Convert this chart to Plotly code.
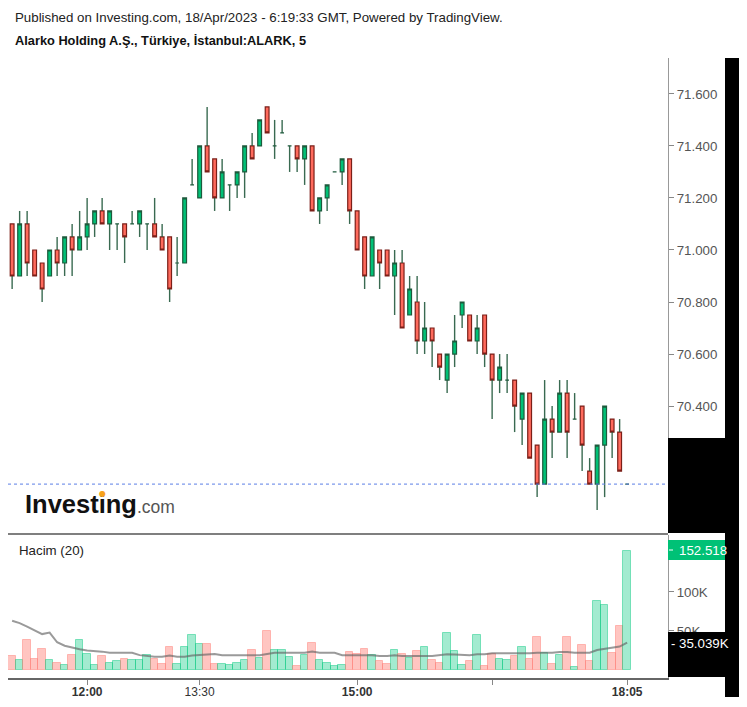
import plotly.graph_objects as go

# ---------------- data ----------------
opens = [71.10, 70.90, 71.10, 71.00, 70.95, 70.90, 71.00, 70.95, 71.05, 71.00,
         71.05, 71.10, 71.15, 71.10, 71.10, 71.10, 71.10, 71.10, 71.10, 71.10,
         71.05, 71.05, 70.95, 70.95, 71.25, 71.20, 71.40, 71.35, 71.20, 71.25,
         71.25, 71.30, 71.40, 71.40, 71.55, 71.40, 71.45, 71.40, 71.40, 71.35,
         71.40, 71.15, 71.20, 71.30, 71.30, 71.35, 71.15, 71.05, 70.90, 71.00,
         71.00, 70.90, 70.95, 70.75, 70.80, 70.65, 70.70, 70.60, 70.50, 70.60,
         70.75, 70.75, 70.65, 70.75, 70.60, 70.50, 70.50, 70.50, 70.35, 70.45,
         70.25, 70.10, 70.35, 70.30, 70.45, 70.35, 70.40, 70.15, 70.10, 70.25,
         70.35, 70.30, 70.10]
highs = [71.10, 71.15, 71.15, 71.00, 70.95, 71.00, 71.05, 71.05, 71.10, 71.15,
         71.20, 71.15, 71.20, 71.15, 71.10, 71.10, 71.15, 71.15, 71.10, 71.20,
         71.10, 71.05, 71.05, 71.20, 71.35, 71.40, 71.55, 71.35, 71.35, 71.25,
         71.30, 71.40, 71.45, 71.50, 71.55, 71.50, 71.50, 71.40, 71.40, 71.40,
         71.40, 71.20, 71.25, 71.30, 71.35, 71.35, 71.15, 71.05, 71.05, 71.00,
         71.00, 71.00, 71.00, 70.90, 70.90, 70.80, 70.70, 70.60, 70.60, 70.75,
         70.80, 70.75, 70.75, 70.75, 70.60, 70.60, 70.60, 70.50, 70.45, 70.45,
         70.25, 70.50, 70.40, 70.50, 70.50, 70.45, 70.40, 70.20, 70.25, 70.40,
         70.35, 70.35, 70.10]
lows = [70.85, 70.90, 70.90, 70.90, 70.80, 70.90, 70.90, 70.90, 70.90, 71.00,
        71.00, 71.05, 71.10, 71.00, 71.00, 70.95, 71.10, 71.05, 71.00, 71.05,
        71.00, 70.80, 70.90, 70.95, 71.25, 71.20, 71.30, 71.15, 71.20, 71.15,
        71.20, 71.20, 71.35, 71.40, 71.45, 71.35, 71.45, 71.30, 71.30, 71.25,
        71.15, 71.10, 71.15, 71.30, 71.25, 71.10, 71.00, 70.85, 70.90, 70.85,
        70.90, 70.75, 70.70, 70.75, 70.60, 70.60, 70.55, 70.50, 70.45, 70.55,
        70.70, 70.65, 70.60, 70.55, 70.35, 70.45, 70.45, 70.30, 70.25, 70.20,
        70.05, 70.10, 70.20, 70.30, 70.20, 70.35, 70.15, 70.10, 70.00, 70.05,
        70.20, 70.15, 70.10]
closes = [70.90, 71.10, 70.95, 70.90, 70.85, 71.00, 70.95, 71.05, 71.00, 71.05,
          71.10, 71.15, 71.10, 71.15, 71.10, 71.05, 71.10, 71.15, 71.10, 71.05,
          71.00, 70.85, 70.95, 71.20, 71.25, 71.40, 71.30, 71.20, 71.30, 71.25,
          71.30, 71.40, 71.35, 71.50, 71.45, 71.40, 71.45, 71.40, 71.35, 71.40,
          71.15, 71.20, 71.25, 71.30, 71.35, 71.15, 71.00, 70.90, 71.05, 70.95,
          70.90, 70.95, 70.70, 70.85, 70.65, 70.70, 70.65, 70.55, 70.60, 70.65,
          70.80, 70.65, 70.70, 70.60, 70.50, 70.55, 70.50, 70.40, 70.45, 70.20,
          70.10, 70.35, 70.30, 70.45, 70.30, 70.35, 70.25, 70.10, 70.25, 70.40,
          70.30, 70.15, 70.10]
volumes_k = [18, 12.8, 38.5, 14, 27, 13, 9.4, 6.4, 19, 38.5,
             20.5, 6.4, 18, 9.4, 11, 14.5, 13, 13, 19, 14.5,
             7.7, 29, 7.7, 30, 44.5, 33, 33, 7.7, 7.7, 6,
             9.4, 13, 25.6, 15.8, 50, 25.6, 25.6, 16, 5, 19,
             35, 13, 9.4, 5, 6.4, 22.6, 20.5, 27, 19, 11.5,
             7.7, 25.6, 20.5, 15.8, 24, 29, 13, 9.4, 48, 24,
             6.4, 11.5, 44.5, 5, 20.5, 14.5, 13, 18, 29, 14.5,
             42, 22, 7.7, 19, 42, 3.4, 32, 11.5, 88.5, 83,
             22, 56, 152.518]
vol_ma_k = [63, 60, 55.5, 51, 46, 48, 35.5, 31, 28.6, 26.5,
            25, 24.4, 23.5, 22, 22, 22, 22, 19, 18, 17,
            17, 18.4, 17, 17, 18.4, 19, 20.5, 20.5, 19, 19,
            19, 19, 19, 19, 20.5, 22, 22, 22, 22, 22,
            23.5, 22, 22, 22, 19, 19, 19, 19, 19, 18,
            18, 19, 18, 18, 18.4, 18, 18, 19, 20, 19.7,
            19, 19, 20, 20, 21.4, 21.4, 20.5, 20.5, 20.5, 21.4,
            22, 22, 22, 23, 23, 22, 22, 22, 25.6, 27,
            28.6, 30, 35.039]
time_tick_idx = [10, 25, 46, 64, 82]
time_tick_labels = ["<b>12:00</b>", "13:30", "<b>15:00</b>", "", "<b>18:05</b>"]
price_ticks = [70.4, 70.6, 70.8, 71.0, 71.2, 71.4, 71.6]
vol_ticks_k = [50, 100]
vol_tick_labels = ["50K", "100K"]

# ---------------- styling ----------------
# the page body has an 8px margin, so the figure is drawn 8px in from the corner
OFF = 8
W, H = 747 - OFF, 707 - OFF
FONT = "Liberation Sans, Arial, sans-serif"
G_FILL, G_LINE = "#00c176", "#1d5a3c"
R_FILL, R_LINE = "#ff6a5c", "#7b1f18"
WICK = "rgba(35,90,62,0.9)"

def fx(px):
    return (px - OFF) / W

def fy(py):
    return 1 - (py - OFF) / H

n = len(closes)
idx = list(range(n))
up = [c >= o for o, c in zip(opens, closes)]

fig = go.Figure()

# wicks (outside the bodies)
wx, wy = [], []
for i in idx:
    top = max(opens[i], closes[i])
    bot = min(opens[i], closes[i])
    if highs[i] > top:
        wx += [i, i, None]
        wy += [top, highs[i], None]
    if lows[i] < bot:
        wx += [i, i, None]
        wy += [bot, lows[i], None]
fig.add_trace(go.Scatter(x=wx, y=wy, mode="lines", line=dict(color=WICK, width=1.4),
                         hoverinfo="skip", showlegend=False, xaxis="x", yaxis="y"))

for flag, fill, line in [(True, G_FILL, G_LINE), (False, R_FILL, R_LINE)]:
    sel = [i for i in idx if up[i] == flag]
    fig.add_trace(go.Candlestick(
        x=sel,
        open=[opens[i] for i in sel],
        close=[closes[i] for i in sel],
        high=[max(opens[i], closes[i]) for i in sel],
        low=[min(opens[i], closes[i]) for i in sel],
        increasing=dict(fillcolor=fill, line=dict(color=line, width=1.2)),
        decreasing=dict(fillcolor=fill, line=dict(color=line, width=1.2)),
        whiskerwidth=0, showlegend=False, xaxis="x", yaxis="y"))

# volume
vol = [v * 1000 for v in volumes_k]
fig.add_trace(go.Bar(
    x=idx, y=vol,
    marker=dict(color=["rgba(0,200,125,0.36)" if u else "rgba(255,110,100,0.40)" for u in up],
                line=dict(color=["rgba(0,200,125,0.45)" if u else "rgba(255,120,110,0.45)" for u in up], width=1)),
    showlegend=False, xaxis="x2", yaxis="y2"))
fig.add_trace(go.Scatter(x=idx, y=[v * 1000 for v in vol_ma_k], mode="lines",
                         line=dict(color="rgba(100,100,100,0.65)", width=2),
                         showlegend=False, xaxis="x2", yaxis="y2"))

xr = [-0.55, 87.45]
fig.update_layout(
    width=W, height=H,
    margin=dict(l=0, r=0, t=0, b=0),
    paper_bgcolor="white", plot_bgcolor="white",
    font=dict(family=FONT, color="#333"),
    boxgap=0.28,
    bargap=0,
    showlegend=False,
    xaxis=dict(domain=[fx(8), fx(668)], range=xr, anchor="y", showticklabels=False,
               showgrid=False, zeroline=False, showline=False, rangeslider=dict(visible=False)),
    yaxis=dict(domain=[fy(533), fy(58)], range=[69.912, 71.738], side="right", anchor="x",
               tickvals=price_ticks, tickformat=".3f", ticks="outside", ticklen=5,
               tickcolor="#888", showline=True, linecolor="#999", linewidth=1,
               showgrid=False, zeroline=False, tickfont=dict(size=13.3, color="#555", family=FONT)),
    xaxis2=dict(domain=[fx(8), fx(668)], range=xr, anchor="y2", tickvals=time_tick_idx,
                ticktext=time_tick_labels, ticks="outside", ticklen=5, tickcolor="#888",
                ticklabelstandoff=-3,
                showline=True, linecolor="#666", linewidth=1.5, showgrid=False, zeroline=False,
                tickfont=dict(size=12, color="#333", family=FONT)),
    yaxis2=dict(domain=[fy(678), fy(535)], range=[-10300, 173000], side="right", anchor="x2",
                tickvals=[v * 1000 for v in vol_ticks_k], ticktext=vol_tick_labels,
                ticks="outside", ticklen=5, tickcolor="#888", showline=True, linecolor="#999",
                linewidth=1, showgrid=False, zeroline=False,
                tickfont=dict(size=13.3, color="#555", family=FONT)),
)

shapes = []
# last-price dashed line
shapes.append(dict(type="line", xref="x domain", yref="y", x0=0, x1=1, y0=closes[-1], y1=closes[-1],
                   line=dict(color="#5b7fe6", width=1, dash="dot"), layer="above"))
# pane separator
shapes.append(dict(type="line", xref="paper", yref="paper", x0=fx(8), x1=fx(668), y0=fy(534), y1=fy(534),
                   line=dict(color="#555", width=1.5)))
# black artefact regions
for x0, x1, y0, y1 in [(725, 741, 58, 697), (668, 741, 438, 533)]:
    shapes.append(dict(type="rect", xref="paper", yref="paper", x0=fx(x0), x1=fx(x1), y0=fy(y1), y1=fy(y0),
                       fillcolor="black", line=dict(width=0), layer="above"))
# green last-volume label
shapes.append(dict(type="rect", xref="paper", yref="paper", x0=fx(668), x1=fx(725), y0=fy(560), y1=fy(540),
                   fillcolor="#00c176", line=dict(width=0), layer="above"))
shapes.append(dict(type="line", xref="paper", yref="paper", x0=fx(669), x1=fx(673), y0=fy(550), y1=fy(550),
                   line=dict(color="white", width=1), layer="above"))
fig.update_layout(shapes=shapes)

ann = []
ann.append(dict(text="Published on Investing.com, 18/Apr/2023 - 6:19:33 GMT, Powered by TradingView.",
                x=fx(13), y=fy(17), xref="paper", yref="paper", xanchor="left", yanchor="middle",
                showarrow=False, font=dict(size=13.3, color="#222", family=FONT)))
ann.append(dict(text="<b>Alarko Holding A.Ş., Türkiye, İstanbul:ALARK, 5</b>",
                x=fx(13), y=fy(41), xref="paper", yref="paper", xanchor="left", yanchor="middle",
                showarrow=False, font=dict(size=12.8, color="#111", family=FONT)))
ann.append(dict(text="Hacim (20)", x=fx(17), y=fy(550), xref="paper", yref="paper",
                xanchor="left", yanchor="middle", showarrow=False,
                font=dict(size=13.3, color="#222", family=FONT)))
ann.append(dict(text="<b>Investing</b><span style='font-size:17.5px;color:#555'>.com</span>",
                x=fx(23), y=fy(504), xref="paper", yref="paper", xanchor="left", yanchor="middle",
                showarrow=False, font=dict(size=25.5, color="#111", family=FONT)))
# orange dot of the logo's "i"
ann.append(dict(text="●", x=fx(102), y=fy(494), xref="paper", yref="paper",
                xanchor="center", yanchor="middle", showarrow=False,
                font=dict(size=8, color="#f7a21b", family="DejaVu Sans")))
ann.append(dict(text=f"{volumes_k[-1]:.3f}", x=fx(677), y=fy(550), xref="paper", yref="paper",
                xanchor="left", yanchor="middle", showarrow=False,
                font=dict(size=13.3, color="white", family=FONT)))
# black box of the moving-average label (covers the lower half of the 50K tick label)
ann.append(dict(text=" ", x=fx(668), y=fy(632), xref="paper", yref="paper",
                xanchor="left", yanchor="top", showarrow=False, width=73, height=45,
                bgcolor="black", borderpad=0, borderwidth=0, font=dict(size=2)))
ann.append(dict(text="-", x=fx(668.5), y=fy(643), xref="paper", yref="paper",
                xanchor="left", yanchor="middle", showarrow=False,
                font=dict(size=13, color="white", family=FONT)))
ann.append(dict(text=f"{vol_ma_k[-1]:.3f}K", x=fx(677), y=fy(643), xref="paper", yref="paper",
                xanchor="left", yanchor="middle", showarrow=False,
                font=dict(size=13.3, color="white", family=FONT)))
fig.update_layout(annotations=ann)

fig.write_html("out.html")
